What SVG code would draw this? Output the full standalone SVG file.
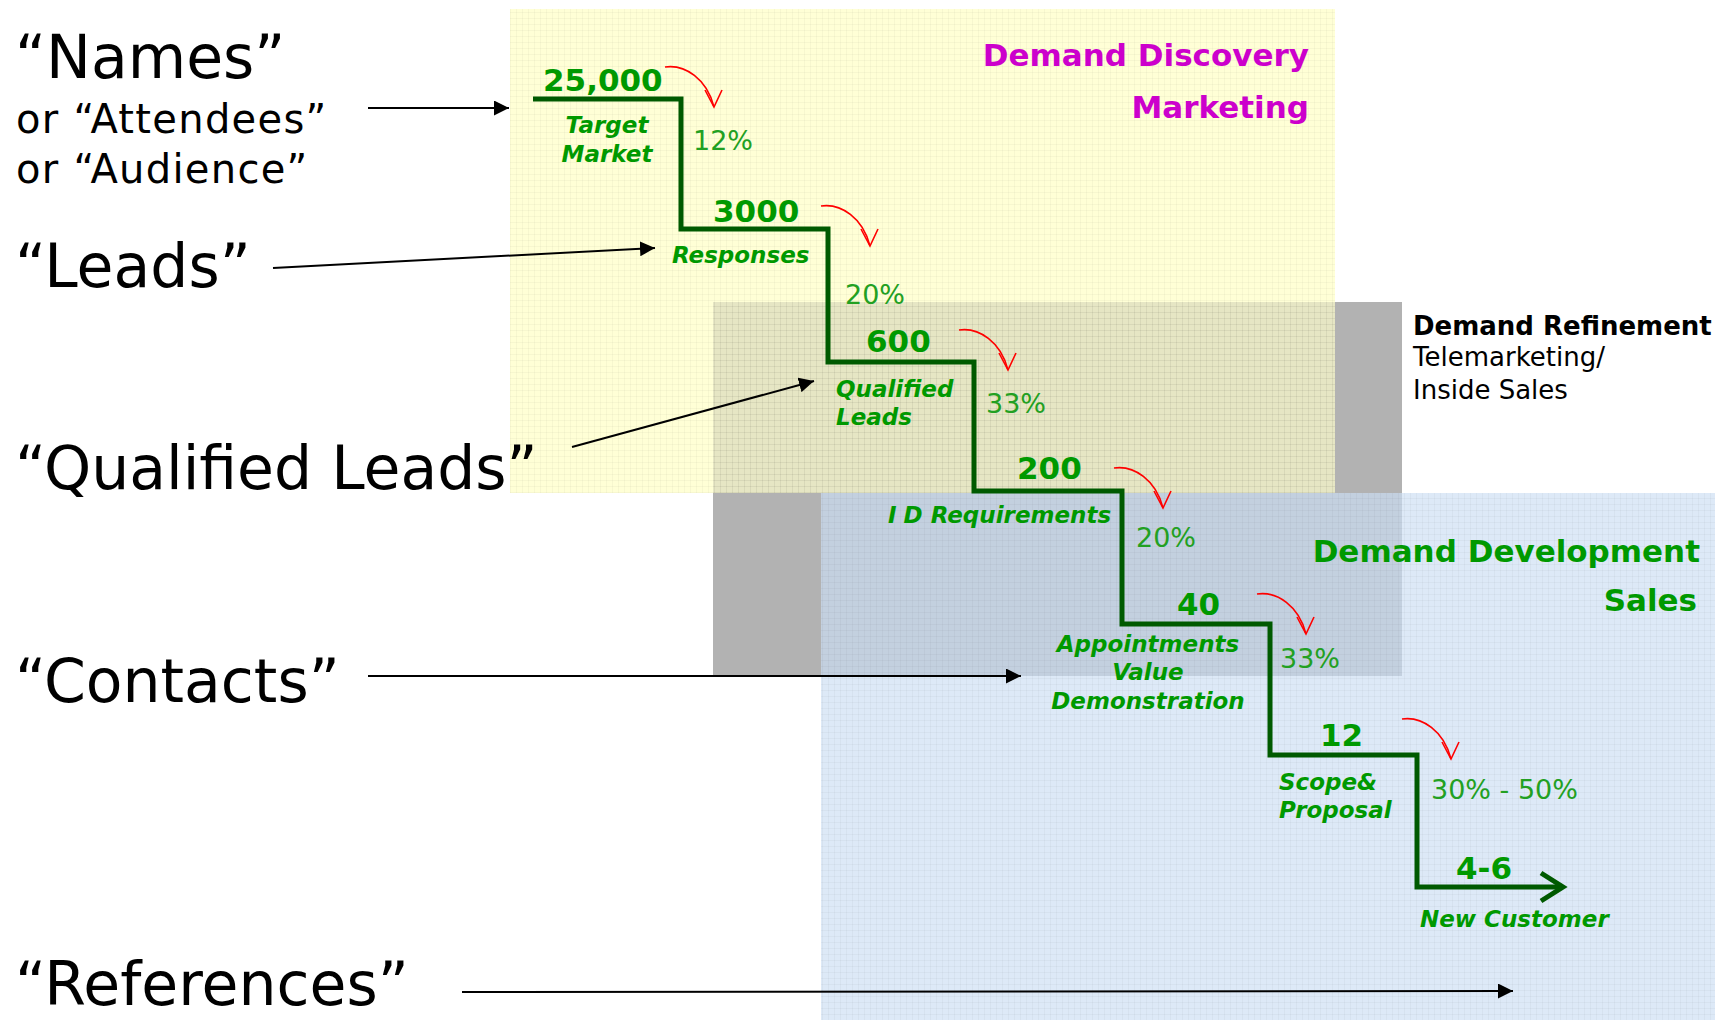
<svg xmlns="http://www.w3.org/2000/svg" width="1728" height="1020" viewBox="0 0 1728 1020">
  <style>
    .lbl { font-family: "DejaVu Sans", Verdana, sans-serif; fill: #000; }
    .big { font-size: 60px; }
    .sub { font-size: 40px; letter-spacing: 1.3px; }
    .num { font-family: "DejaVu Sans", Verdana, sans-serif; font-weight: bold; font-size: 31px; fill: #009900; }
    .stage { font-family: "DejaVu Sans", Verdana, sans-serif; font-weight: bold; font-style: italic; font-size: 23px; fill: #009900; }
    .pct { font-family: "DejaVu Sans", Verdana, sans-serif; font-size: 27px; fill: #22a022; }
    .title { font-family: "DejaVu Sans", Verdana, sans-serif; font-weight: bold; font-size: 31px; }
    .side { font-family: "DejaVu Sans", Verdana, sans-serif; font-size: 26px; fill: #000; }
    .conn { stroke: #000; stroke-width: 2; fill: none; marker-end: url(#tri); }
    .drop { stroke: #ff0000; stroke-width: 1.6; fill: none; }
    .stair { stroke: #005a00; stroke-width: 5; fill: none; }
  </style>
  <defs>
    <marker id="tri" markerUnits="userSpaceOnUse" markerWidth="15" markerHeight="15" viewBox="0 0 10 10" refX="10" refY="5" orient="auto">
      <path d="M0,0 L10,5 L0,10 z" fill="#000"/>
    </marker>
    <pattern id="grid" width="6" height="6" patternUnits="userSpaceOnUse">
      <path d="M0 0.5H6M0.5 0V6" stroke="#000" stroke-opacity="0.03" stroke-width="1"/>
    </pattern>
    <!-- curved red drop arrow, drawn from its start point -->
    <g id="dropArrow">
      <path class="drop" d="M0,0 C20,-3 42,12 49,40"/>
      <path class="drop" d="M40,23 L49,40 L57,23"/>
    </g>
  </defs>

  <rect width="1728" height="1020" fill="#fff"/>

  <!-- stage bands -->
  <g id="band-discovery">
    <rect x="510" y="9" width="825" height="484" fill="#ffffd6"/>
  </g>
  <g id="band-refinement">
    <rect x="713" y="302" width="689" height="374" fill="#b2b2b2"/>
    <rect x="713" y="302" width="622" height="191" fill="#e6e6c4"/>
  </g>
  <g id="band-development">
    <rect x="821" y="493" width="894" height="527" fill="#dde9f7"/>
    <rect x="821" y="493" width="581" height="183" fill="#c3d0df"/>
  </g>
  <rect x="510" y="9" width="825" height="484" fill="url(#grid)"/>
  <rect x="713" y="302" width="622" height="191" fill="url(#grid)"/>
  <rect x="821" y="493" width="894" height="527" fill="url(#grid)"/>

  <!-- band titles -->
  <g id="title-discovery" class="title" fill="#cc00cc" text-anchor="end">
    <text x="1309" y="66">Demand Discovery</text>
    <text x="1309" y="118">Marketing</text>
  </g>
  <g id="title-refinement">
    <text class="side" x="1413" y="335" font-weight="bold">Demand Refinement</text>
    <text class="side" x="1413" y="366">Telemarketing/</text>
    <text class="side" x="1413" y="399">Inside Sales</text>
  </g>
  <g id="title-development" class="title" fill="#009900" text-anchor="end">
    <text x="1700" y="562">Demand Development</text>
    <text x="1697" y="611">Sales</text>
  </g>

  <!-- funnel staircase -->
  <g id="staircase">
    <path class="stair" d="M533,99 H681 V229 H828 V362 H974 V491 H1122 V624 H1270 V755 H1417 V887 H1561"/>
    <path class="stair" stroke-width="6" d="M1541,873 L1563,887 L1541,901"/>
  </g>

  <!-- funnel stages -->
  <g id="stage-target">
    <text class="num" x="543" y="91">25,000</text>
    <text class="stage" x="607" y="133" text-anchor="middle">Target</text>
    <text class="stage" x="607" y="162" text-anchor="middle">Market</text>
    <text class="pct" x="693" y="150">12%</text>
  </g>
  <g id="stage-responses">
    <text class="num" x="713" y="222">3000</text>
    <text class="stage" x="672" y="263">Responses</text>
    <text class="pct" x="845" y="304">20%</text>
  </g>
  <g id="stage-qualified">
    <text class="num" x="866" y="352">600</text>
    <text class="stage" x="836" y="397">Qualified</text>
    <text class="stage" x="836" y="425">Leads</text>
    <text class="pct" x="986" y="413">33%</text>
  </g>
  <g id="stage-requirements">
    <text class="num" x="1017" y="479">200</text>
    <text class="stage" x="888" y="523">I<tspan dx="7">D Requirements</tspan></text>
    <text class="pct" x="1136" y="547">20%</text>
  </g>
  <g id="stage-appointments">
    <text class="num" x="1177" y="615">40</text>
    <text class="stage" x="1148" y="652" text-anchor="middle">Appointments</text>
    <text class="stage" x="1148" y="680" text-anchor="middle">Value</text>
    <text class="stage" x="1148" y="709" text-anchor="middle">Demonstration</text>
    <text class="pct" x="1280" y="668">33%</text>
  </g>
  <g id="stage-proposal">
    <text class="num" x="1320" y="746">12</text>
    <text class="stage" x="1279" y="790">Scope&amp;</text>
    <text class="stage" x="1279" y="818">Proposal</text>
    <text class="pct" x="1431" y="799">30% - 50%</text>
  </g>
  <g id="stage-customer">
    <text class="num" x="1456" y="879">4-6</text>
    <text class="stage" x="1420" y="927">New Customer</text>
  </g>

  <!-- conversion drop arrows -->
  <g id="drops">
    <use href="#dropArrow" x="665" y="67"/>
    <use href="#dropArrow" x="821" y="206"/>
    <use href="#dropArrow" x="959" y="330"/>
    <use href="#dropArrow" x="1114" y="468"/>
    <use href="#dropArrow" x="1257" y="594"/>
    <use href="#dropArrow" x="1402" y="719"/>
  </g>

  <!-- terms on the left -->
  <g id="term-names" class="lbl">
    <text class="big" x="15" y="78">“Names”</text>
    <text class="sub" x="16" y="133">or “Attendees”</text>
    <text class="sub" x="16" y="183">or “Audience”</text>
  </g>
  <g id="term-leads" class="lbl"><text class="big" x="15" y="287">“Leads”</text></g>
  <g id="term-qualified" class="lbl"><text class="big" x="15" y="489">“Qualified Leads”</text></g>
  <g id="term-contacts" class="lbl"><text class="big" x="15" y="702">“Contacts”</text></g>
  <g id="term-references" class="lbl"><text class="big" x="15" y="1005">“References”</text></g>

  <!-- connectors from terms to stages -->
  <g id="connectors">
    <line class="conn" x1="368" y1="108" x2="509" y2="108"/>
    <line class="conn" x1="273" y1="268" x2="655" y2="248"/>
    <line class="conn" x1="572" y1="447" x2="814" y2="381"/>
    <line class="conn" x1="368" y1="676" x2="1021" y2="676"/>
    <line class="conn" x1="462" y1="992" x2="1513" y2="991"/>
  </g>
</svg>
